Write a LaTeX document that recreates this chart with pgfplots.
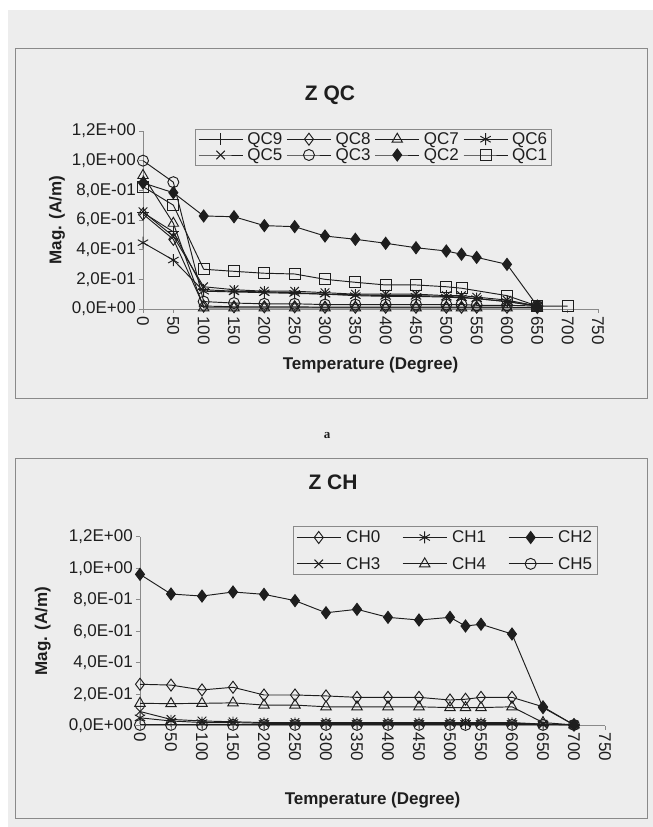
\documentclass[border=0pt]{standalone}
\usepackage{fontspec}
\setmainfont{Liberation Sans}
\newfontfamily\seriffont{Liberation Serif}
\usepackage{pgfplots}
\pgfplotsset{compat=1.18}
\definecolor{paper}{HTML}{EDEDED}
\definecolor{ln}{HTML}{1E1E1E}
\definecolor{frm}{HTML}{8A8A8A}

\pgfplotsset{
  excel/.style={
    scale only axis,
    axis lines*=left,
    axis line style={frm, line width=0.7pt},
    xmin=0, xmax=750, ymin=0, ymax=1.2,
    xtick={0,50,100,150,200,250,300,350,400,450,500,550,600,650,700,750},
    xticklabels={0,50,100,150,200,250,300,350,400,450,500,550,600,650,700,750},
    ytick={0,0.2,0.4,0.6,0.8,1.0,1.2},
    yticklabels={{0,0E+00},{2,0E-01},{4,0E-01},{6,0E-01},{8,0E-01},{1,0E+00},{1,2E+00}},
    tick style={frm, line width=0.7pt},
    major tick length=4pt,
    tick align=outside,
    xticklabel style={rotate=-90, anchor=west, font=\fontsize{17}{17}\selectfont, inner sep=3pt, text=ln},
    yticklabel style={font=\fontsize{17}{17}\selectfont, inner sep=3pt, text=ln},
    xlabel={Temperature (Degree)},
    ylabel={Mag. (A/m)},
    label style={font=\bfseries\fontsize{17}{17}\selectfont, text=ln},
    legend cell align=left,
    legend style={draw=frm, fill=none, line width=0.6pt, font=\fontsize{17}{17}\selectfont, text=ln,
      /tikz/every even column/.append style={column sep=3pt},
      /tikz/every odd column/.append style={column sep=3pt},
      nodes={inner sep=1.2pt}},
    legend image code/.code={\draw[mark repeat=2,mark phase=2,#1] plot coordinates {(0pt,0pt) (22pt,0pt) (44pt,0pt)};},
    every axis plot/.append style={ln, line width=0.95pt, mark options={solid, fill=white, line width=0.95pt}},
    clip=false,
  }
}

\begin{document}
\begin{tikzpicture}[x=1pt,y=1pt]
\fill[white] (0,0) rectangle (653,827);
\fill[paper] (8,0) rectangle (653,817);
\useasboundingbox (0,0) rectangle (653,827);
% frames
\draw[frm, line width=0.7pt] (15,429) rectangle (647,779);
\draw[frm, line width=0.7pt] (15,9) rectangle (647,369);
\node[font=\bfseries\fontsize{21}{21}\selectfont, text=ln] at (330,732) {Z QC};
\node[font=\bfseries\fontsize{21}{21}\selectfont, text=ln] at (333,345) {Z CH};
\node[font=\seriffont\bfseries\fontsize{13}{13}\selectfont, text=ln] at (327,391) {a};

\begin{axis}[excel,
  at={(143pt,518pt)}, anchor=south west, width=455pt, height=178pt,
  ylabel style={at={(axis description cs:-0.189,0.5)}, anchor=center},
  xlabel style={at={(axis description cs:0.5,-0.315)}, anchor=center},
  legend columns=4,
  legend style={at={(axis description cs:0.114,1.011)}, anchor=north west},
]
\addplot[mark=+, mark size=6pt] coordinates {(0,0.65) (50,0.52) (100,0.13) (150,0.12) (200,0.115) (250,0.11) (300,0.10) (350,0.095) (400,0.09) (450,0.09) (500,0.085) (525,0.08) (550,0.07) (600,0.05) (650,0.02)};
\addlegendentry{QC9}
\addplot[mark=diamond, mark size=6pt] coordinates {(0,0.64) (50,0.47) (100,0.02) (150,0.015) (200,0.015) (250,0.015) (300,0.012) (350,0.012) (400,0.012) (450,0.012) (500,0.012) (525,0.012) (550,0.012) (600,0.012) (650,0.01)};
\addlegendentry{QC8}
\addplot[mark=triangle, mark size=6pt] coordinates {(0,0.90) (50,0.578) (100,0.008) (150,0.008) (200,0.008) (250,0.008) (300,0.008) (350,0.008) (400,0.008) (450,0.008) (500,0.008) (525,0.008) (550,0.008) (600,0.008) (650,0.008)};
\addlegendentry{QC7}
\addplot[mark=asterisk, mark size=6pt] coordinates {(0,0.447) (50,0.33) (100,0.12) (150,0.115) (200,0.11) (250,0.105) (300,0.10) (350,0.09) (400,0.085) (450,0.085) (500,0.08) (525,0.075) (550,0.07) (600,0.05) (650,0.02)};
\addlegendentry{QC6}
\addplot[mark=x, mark size=6pt] coordinates {(0,0.656) (50,0.49) (100,0.15) (150,0.13) (200,0.12) (250,0.12) (300,0.11) (350,0.10) (400,0.10) (450,0.10) (500,0.09) (525,0.09) (550,0.08) (600,0.06) (650,0.02)};
\addlegendentry{QC5}
\addplot[mark=o, mark size=5.5pt] coordinates {(0,1.0) (50,0.855) (100,0.05) (150,0.04) (200,0.035) (250,0.035) (300,0.03) (350,0.03) (400,0.03) (450,0.03) (500,0.03) (525,0.03) (550,0.025) (600,0.025) (650,0.02)};
\addlegendentry{QC3}
\addplot[mark=diamond*, mark size=6pt, mark options={fill=ln}] coordinates {(0,0.85) (50,0.784) (100,0.627) (150,0.622) (200,0.562) (250,0.555) (300,0.492) (350,0.47) (400,0.443) (450,0.413) (500,0.391) (525,0.369) (550,0.348) (600,0.301) (650,0.02)};
\addlegendentry{QC2}
\addplot[mark=square, mark size=5.5pt] coordinates {(0,0.825) (50,0.70) (100,0.268) (150,0.254) (200,0.241) (250,0.236) (300,0.20) (350,0.18) (400,0.162) (450,0.162) (500,0.15) (525,0.14) (600,0.09) (650,0.02) (700,0.02)};
\addlegendentry{QC1}
\end{axis}

\begin{axis}[excel,
  at={(140pt,101.3pt)}, anchor=south west, width=465pt, height=189pt,
  ylabel style={at={(axis description cs:-0.209,0.5)}, anchor=center},
  xlabel style={at={(axis description cs:0.5,-0.393)}, anchor=center},
  legend columns=3,
  legend style={at={(axis description cs:0.329,1.054)}, anchor=north west,
    /tikz/every even column/.append style={column sep=20pt}, /tikz/row sep=9pt,
    nodes={inner sep=2pt}},
]
\addplot[mark=diamond, mark size=6pt] coordinates {(0,0.263) (50,0.258) (100,0.227) (150,0.244) (200,0.195) (250,0.195) (300,0.189) (350,0.18) (400,0.18) (450,0.18) (500,0.163) (525,0.168) (550,0.18) (600,0.18) (650,0.12) (700,0.005)};
\addlegendentry{CH0}
\addplot[mark=asterisk, mark size=6pt] coordinates {(0,0.05) (50,0.03) (100,0.02) (150,0.02) (200,0.015) (250,0.015) (300,0.015) (350,0.015) (400,0.015) (450,0.015) (500,0.015) (525,0.015) (550,0.015) (600,0.015) (650,0.01) (700,0.005)};
\addlegendentry{CH1}
\addplot[mark=diamond*, mark size=6pt, mark options={fill=ln}] coordinates {(0,0.961) (50,0.836) (100,0.823) (150,0.849) (200,0.834) (250,0.794) (300,0.717) (350,0.739) (400,0.688) (450,0.671) (500,0.688) (525,0.633) (550,0.644) (600,0.582) (650,0.115) (700,0.005)};
\addlegendentry{CH2}
\addplot[mark=x, mark size=6pt] coordinates {(0,0.09) (50,0.04) (100,0.03) (150,0.025) (200,0.02) (250,0.02) (300,0.02) (350,0.02) (400,0.02) (450,0.02) (500,0.02) (525,0.02) (550,0.02) (600,0.02) (650,0.01) (700,0.005)};
\addlegendentry{CH3}
\addplot[mark=triangle, mark size=6pt] coordinates {(0,0.142) (50,0.14) (100,0.142) (150,0.145) (200,0.131) (250,0.131) (300,0.12) (350,0.12) (400,0.12) (450,0.12) (500,0.115) (525,0.115) (550,0.115) (600,0.12) (650,0.02) (700,0.005)};
\addlegendentry{CH4}
\addplot[mark=o, mark size=5.5pt] coordinates {(0,0.005) (50,0.005) (100,0.005) (150,0.005) (200,0.005) (250,0.005) (300,0.005) (350,0.005) (400,0.005) (450,0.005) (500,0.005) (525,0.005) (550,0.005) (600,0.005) (650,0.005) (700,0.005)};
\addlegendentry{CH5}
\end{axis}
\end{tikzpicture}
\end{document}
